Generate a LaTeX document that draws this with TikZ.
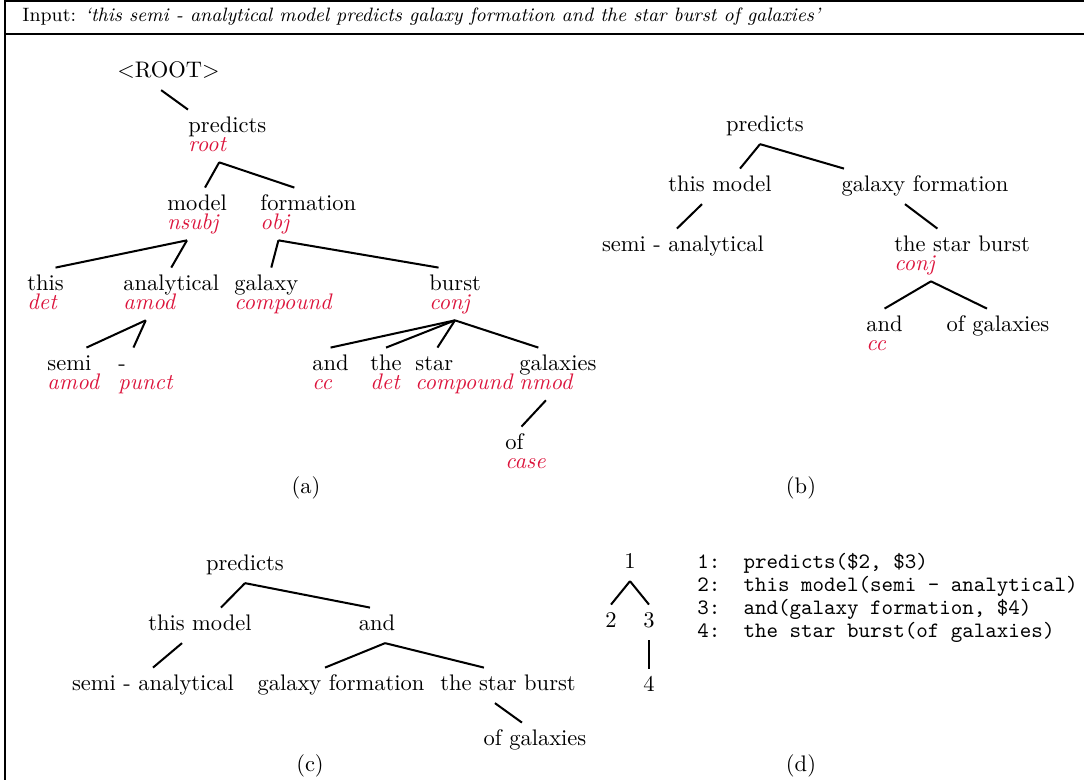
\documentclass[tikz,border=0pt]{standalone}
\usetikzlibrary{positioning}
\definecolor{deprel}{RGB}{220,20,60}

\begin{document}
\begin{tikzpicture}[
    x=0.4444pt, y=-0.4444pt, % one unit = one pixel of the layout, y runs downwards
    % Define styles
    frame/.style={line width=0.6pt},
    word/.style={anchor=base west, inner xsep=0pt, inner ysep=3.2pt, text height=7pt, text depth=2pt}, % token, left aligned
    rel/.style={word, inner ysep=2.4pt, text=deprel, font=\itshape}, % dependency label under a token
    phrase/.style={word, anchor=base}, % merged phrase, centred
    edge/.style={line width=0.9pt}, % tree edge
    caption/.style={anchor=base, inner sep=0pt},
    code/.style={anchor=base west, inner sep=0pt, font=\fontsize{9.75}{11}\selectfont\ttfamily}
]
\useasboundingbox (0,0) rectangle (1084,780);

% ----- FRAME AND INPUT -----
\draw [frame] (5,780) -- (5,1) -- (1084,1);
\draw [frame] (5,34) -- (1084,34);
\node (input) [anchor=base west, inner sep=0pt, font=\fontsize{8.6}{10}\selectfont] at (22,22) {Input: \textit{`this semi - analytical model predicts galaxy formation and the star burst of galaxies'}};

% ----- (a) DEPENDENCY TREE -----
\node (a_top)         [word] at (117,78)  {$<$ROOT$>$};
\node (a_predicts)    [word] at (188,133) {predicts};
\node (a_predicts_r)  [rel]  at (188,152) {root};
\node (a_model)       [word] at (167,211) {model};
\node (a_model_r)     [rel]  at (167,230) {nsubj};
\node (a_formation)   [word] at (260,211) {formation};
\node (a_formation_r) [rel]  at (260,230) {obj};
\node (a_this)        [word] at (27,291)  {this};
\node (a_this_r)      [rel]  at (27,310)  {det};
\node (a_analytical)  [word] at (123,291) {analytical};
\node (a_analytical_r)[rel]  at (123,310) {amod};
\node (a_galaxy)      [word] at (234,291) {galaxy};
\node (a_galaxy_r)    [rel]  at (234,310) {compound};
\node (a_burst)       [word] at (429,291) {burst};
\node (a_burst_r)     [rel]  at (429,310) {conj};
\node (a_semi)        [word] at (47,371)  {semi};
\node (a_semi_r)      [rel]  at (47,390)  {amod};
\node (a_dash)        [word] at (118,371) {-};
\node (a_dash_r)      [rel]  at (118,390) {punct};
\node (a_and)         [word] at (312,371) {and};
\node (a_and_r)       [rel]  at (312,390) {cc};
\node (a_the)         [word] at (370,371) {the};
\node (a_the_r)       [rel]  at (370,390) {det};
\node (a_star)        [word] at (415,371) {star};
\node (a_star_r)      [rel]  at (415,390) {compound};
\node (a_galaxies)    [word] at (519,371) {galaxies};
\node (a_galaxies_r)  [rel]  at (519,390) {nmod};
\node (a_of)          [word] at (505,450) {of};
\node (a_of_r)        [rel]  at (505,469) {case};
\node (a_cap) [caption] at (306,494) {(a)};

% Draw edges for (a)
\draw [edge] ([xshift=-3.3pt]a_top.south) -- (a_predicts.north west);
\draw [edge] ([xshift=5.3pt]a_predicts_r.south) -- ([xshift=3.5pt]a_model.north);
\draw [edge] ([xshift=5.3pt]a_predicts_r.south) -- ([xshift=-6.2pt]a_formation.north);
\draw [edge] ([xshift=-2.7pt]a_model_r.south) -- ([xshift=4.4pt]a_this.north);
\draw [edge] ([xshift=-2.7pt]a_model_r.south) -- (a_analytical.north);
\draw [edge] ([xshift=1.6pt]a_formation_r.south) -- ([xshift=2.2pt]a_galaxy.north);
\draw [edge] ([xshift=1.6pt]a_formation_r.south) -- ([xshift=-7.4pt]a_burst.north);
\draw [edge] ([xshift=-1.6pt]a_analytical_r.south) -- ([xshift=7.6pt]a_semi.north);
\draw [edge] ([xshift=-1.6pt]a_analytical_r.south) -- ([xshift=5pt]a_dash.north);
\draw [edge] ([xshift=2.4pt]a_burst_r.south) -- (a_and.north);
\draw [edge] ([xshift=2.4pt]a_burst_r.south) -- (a_the.north);
\draw [edge] ([xshift=2.4pt]a_burst_r.south) -- ([xshift=1.4pt]a_star.north);
\draw [edge] ([xshift=2.4pt]a_burst_r.south) -- ([xshift=-8.7pt]a_galaxies.north);
\draw [edge] (a_galaxies_r.south) -- ([xshift=3.1pt]a_of.north);

% ----- (b) MERGED PHRASES -----
\node (b_predicts)  [phrase] at (765,132) {predicts};
\node (b_model)     [phrase] at (720,192) {this model};
\node (b_formation) [phrase] at (925,192) {galaxy formation};
\node (b_semi)      [phrase] at (683,252) {semi - analytical};
\node (b_burst)     [word]   at (894,252) {the star burst};
\node (b_burst_r)   [rel]    at (894,271) {conj};
\node (b_and)       [word]   at (866,332) {and};
\node (b_and_r)     [rel]    at (866,351) {cc};
\node (b_galaxies)  [phrase] at (998,332) {of galaxies};
\node (b_cap) [caption] at (801,494) {(b)};

% Draw edges for (b)
\draw [edge] ([xshift=-2.2pt]b_predicts.south) -- ([xshift=8.9pt]b_model.north);
\draw [edge] ([xshift=-2.2pt]b_predicts.south) -- ([xshift=1.3pt]b_formation.north west);
\draw [edge] ([xshift=-8pt]b_model.south) -- ([xshift=-2.7pt]b_semi.north);
\draw [edge] ([xshift=-8.9pt]b_formation.south) -- ([xshift=-11pt]b_burst.north);
\draw [edge] ([xshift=7.3pt]b_burst_r.south) -- (b_and.north);
\draw [edge] ([xshift=7.3pt]b_burst_r.south) -- ([xshift=-4.9pt]b_galaxies.north);

% ----- (c) CONJUNCTION RAISED -----
\node (c_predicts)  [phrase] at (245,571) {predicts};
\node (c_model)     [phrase] at (200,631) {this model};
\node (c_and)       [phrase] at (377,631) {and};
\node (c_semi)      [phrase] at (153,691) {semi - analytical};
\node (c_formation) [phrase] at (341,691) {galaxy formation};
\node (c_burst)     [phrase] at (508,691) {the star burst};
\node (c_galaxies)  [phrase] at (535,746) {of galaxies};
\node (c_cap) [caption] at (310,772) {(c)};

% Draw edges for (c)
\draw [edge] (c_predicts.south) -- ([xshift=9.3pt]c_model.north);
\draw [edge] (c_predicts.south) -- ([xshift=-3.1pt]c_and.north);
\draw [edge] ([xshift=-8pt]c_model.south) -- (c_semi.north);
\draw [edge] ([xshift=3.6pt]c_and.south) -- ([xshift=-7.1pt]c_formation.north);
\draw [edge] ([xshift=3.6pt]c_and.south) -- ([xshift=-10.7pt]c_burst.north);
\draw [edge] ([xshift=-5.8pt]c_burst.south) -- ([xshift=-5.8pt]c_galaxies.north);

% ----- (d) NUMBERED TREE AND PROGRAM -----
\node (d_one)   [phrase] at (630,569) {1};
\node (d_two)   [phrase] at (611,628) {2};
\node (d_three) [phrase] at (649,628) {3};
\node (d_four)  [phrase] at (649,692) {4};
\draw [edge] (d_one.south) -- (d_two.north);
\draw [edge] (d_one.south) -- (d_three.north);
\draw [edge] (d_three.south) -- (d_four.north);

\node (d_line1) [code] at (697,569) {1:\ \ predicts(\$2, \$3)};
\node (d_line2) [code] at (697,592) {2:\ \ this model(semi - analytical)};
\node (d_line3) [code] at (697,615) {3:\ \ and(galaxy formation, \$4)};
\node (d_line4) [code] at (697,638) {4:\ \ the star burst(of galaxies)};
\node (d_cap) [caption] at (801,772) {(d)};

\end{tikzpicture}
\end{document}
